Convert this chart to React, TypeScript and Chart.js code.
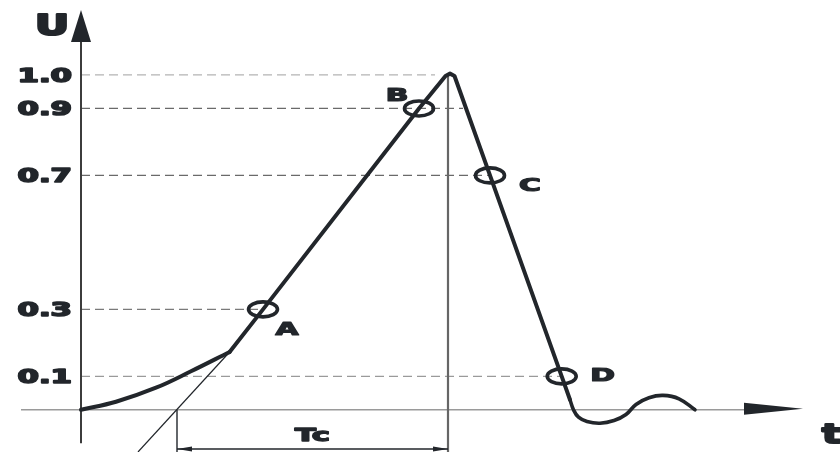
import React, { useEffect, useRef } from "react";
import { Chart, registerables } from "chart.js";

Chart.register(...registerables);

// ---- data (t in arbitrary time units, U relative) ----
const levels = [1.0, 0.9, 0.7, 0.3, 0.1];
const levelLabels = ["1.0", "0.9", "0.7", "0.3", "0.1"];
const levelGuideEnds = [35.4, 38.2, 40.9, 18.2, 48.1];

const footT = [0, 3.5, 7.5, 11.0, 14.86];
const footU = [0, 0.024, 0.066, 0.115, 0.1726];

const mainT = [14.86, 18.2, 33.8, 36.45, 36.9, 37.35, 40.9, 48.07, 48.9];
const mainU = [0.1726, 0.3, 0.9, 0.997, 1.004, 0.997, 0.7, 0.1, 0.03];

const tailT = [48.9, 49.25, 49.75, 50.6, 51.9, 53.3, 54.5, 55.5, 56.8, 58.2, 59.8, 61.4];
const tailU = [0.03, 0.0, -0.022, -0.035, -0.04, -0.032, -0.014, 0.016, 0.036, 0.043, 0.033, 0];

const tangentT = [5.7, 14.86];
const tangentU = [-0.126, 0.1726];

const markerT = [18.2, 33.8, 40.9, 48.07];
const markerU = [0.3, 0.9, 0.7, 0.1];
const markerNames = ["A", "B", "C", "D"];

const PEAK_T = 36.7;
const TC_START_T = 9.6;
const TC_LABEL = "Tc";
const Y_TITLE = "U";
const X_TITLE = "t";

const T_AXIS_START = -6;
const T_AXIS_END = 72.2;
const U_AXIS_BOTTOM = -0.1;
const U_AXIS_TOP = 1.194;
const DIM_U = -0.117;
const TC_LABEL_U = -0.075;

const pts = (xs: number[], ys: number[]) => xs.map((x, i) => ({ x, y: ys[i] }));

const INK = "#22262b";
const FONT = '"DejaVu Sans", sans-serif';

function stretchText(ctx: CanvasRenderingContext2D, text: string, x: number, y: number, align: CanvasTextAlign, size: number, stretch: number, weight = 1.3) {
  ctx.save();
  ctx.translate(x, y);
  ctx.scale(stretch, 1);
  ctx.font = `bold ${size}px ${FONT}`;
  ctx.textAlign = align;
  ctx.textBaseline = "alphabetic";
  ctx.fillStyle = INK;
  ctx.strokeStyle = INK;
  ctx.lineWidth = weight;
  ctx.lineJoin = "round";
  ctx.fillText(text, 0, 0);
  ctx.strokeText(text, 0, 0);
  ctx.restore();
}

const diagramPlugin = {
  id: "diagram",
  beforeDatasetsDraw(chart: any) {
    const ctx: CanvasRenderingContext2D = chart.ctx;
    const xs = chart.scales.x;
    const ys = chart.scales.y;
    const px = (t: number) => xs.getPixelForValue(t);
    const py = (u: number) => ys.getPixelForValue(u);
    const x0 = px(0);
    const y0 = py(0);
    ctx.save();

    // dashed guides
    const guideColors = ["#b4b4b4", "#6a6a6a", "#6a6a6a", "#7a7a7a", "#9a9a9a"];
    levels.forEach((lv, i) => {
      ctx.beginPath();
      ctx.setLineDash([9, 5]);
      ctx.strokeStyle = guideColors[i];
      ctx.lineWidth = 1.3;
      ctx.moveTo(x0, py(lv));
      ctx.lineTo(px(levelGuideEnds[i]), py(lv));
      ctx.stroke();
    });
    ctx.setLineDash([]);

    // t axis
    ctx.beginPath();
    ctx.strokeStyle = "#9a9a9a";
    ctx.lineWidth = 1.5;
    ctx.moveTo(px(T_AXIS_START), y0);
    ctx.lineTo(px(T_AXIS_END) - 58, y0);
    ctx.stroke();
    ctx.beginPath();
    ctx.fillStyle = INK;
    const tipX = px(T_AXIS_END);
    ctx.moveTo(tipX - 59, y0 - 7);
    ctx.lineTo(tipX, y0 - 1);
    ctx.lineTo(tipX - 59, y0 + 5);
    ctx.closePath();
    ctx.fill();

    // U axis
    ctx.beginPath();
    ctx.strokeStyle = "#3c3c3c";
    ctx.lineWidth = 2;
    ctx.moveTo(x0, py(U_AXIS_BOTTOM));
    ctx.lineTo(x0, py(U_AXIS_TOP) + 30);
    ctx.stroke();
    ctx.beginPath();
    const tipY = py(U_AXIS_TOP);
    ctx.moveTo(x0, tipY);
    ctx.lineTo(x0 + 10, tipY + 32);
    ctx.lineTo(x0 - 10, tipY + 32);
    ctx.closePath();
    ctx.fill();

    // peak vertical
    ctx.beginPath();
    ctx.strokeStyle = "#666";
    ctx.lineWidth = 2.2;
    ctx.moveTo(px(PEAK_T), py(1.0));
    ctx.lineTo(px(PEAK_T), chart.height);
    ctx.stroke();

    // Tc start vertical
    ctx.beginPath();
    ctx.strokeStyle = INK;
    ctx.lineWidth = 1.4;
    ctx.moveTo(px(TC_START_T), y0);
    ctx.lineTo(px(TC_START_T), chart.height);
    ctx.stroke();

    // dimension line
    const dy = py(DIM_U);
    const a = px(TC_START_T);
    const b = px(PEAK_T);
    ctx.beginPath();
    ctx.lineWidth = 1.3;
    ctx.moveTo(a, dy);
    ctx.lineTo(b, dy);
    ctx.stroke();
    ctx.beginPath();
    ctx.moveTo(a, dy);
    ctx.lineTo(a + 15, dy - 2.5);
    ctx.lineTo(a + 15, dy + 2.5);
    ctx.closePath();
    ctx.moveTo(b, dy);
    ctx.lineTo(b - 15, dy - 2.5);
    ctx.lineTo(b - 15, dy + 2.5);
    ctx.closePath();
    ctx.fill();
    ctx.restore();
  },
  afterDatasetsDraw(chart: any) {
    const ctx: CanvasRenderingContext2D = chart.ctx;
    const xs = chart.scales.x;
    const ys = chart.scales.y;
    const px = (t: number) => xs.getPixelForValue(t);
    const py = (u: number) => ys.getPixelForValue(u);
    ctx.save();

    // marker ellipses
    const labelOffsets = [[24, 20], [-22, -13], [40, 10], [41, -1]];
    markerT.forEach((t, i) => {
      const cx = px(t);
      const cy = py(markerU[i]);
      ctx.beginPath();
      ctx.strokeStyle = INK;
      ctx.lineWidth = 3.6;
      ctx.ellipse(cx, cy, 14.5, 7.5, 0, 0, Math.PI * 2);
      ctx.stroke();
      stretchText(ctx, markerNames[i], cx + labelOffsets[i][0], cy + labelOffsets[i][1] + 6, "center", 17, 1.75, 1.2);
    });

    // tick labels
    const x0 = px(0);
    levels.forEach((lv, i) => {
      stretchText(ctx, levelLabels[i], x0 - 9, py(lv) + 7, "right", 19, 1.62, 1.6);
    });

    // titles
    stretchText(ctx, Y_TITLE, 35, 35, "left", 28, 1.5, 2.2);
    stretchText(ctx, X_TITLE, 822, 443, "left", 27, 1.45, 2.2);
    stretchText(ctx, TC_LABEL, (px(TC_START_T) + px(PEAK_T)) / 2, py(TC_LABEL_U) + 6, "center", 18, 1.7, 1.4);
    ctx.restore();
  },
};

export default function App() {
  const ref = useRef<HTMLCanvasElement | null>(null);
  useEffect(() => {
    if (!ref.current) return;
    const common = { showLine: true, pointRadius: 0, borderColor: INK, clip: false as any, fill: false };
    const chart = new Chart(ref.current, {
      type: "scatter",
      data: {
        datasets: [
          { ...common, label: "foot", data: pts(footT, footU), borderWidth: 4, tension: 0.4, borderCapStyle: "round" },
          { ...common, label: "impulse", data: pts(mainT, mainU), borderWidth: 4, tension: 0, borderJoinStyle: "round", borderCapStyle: "round" },
          { ...common, label: "tail", data: pts(tailT, tailU), borderWidth: 3.6, tension: 0.4, borderCapStyle: "round" },
          { ...common, label: "tangent", data: pts(tangentT, tangentU), borderWidth: 1.2, tension: 0 },
        ] as any,
      },
      options: {
        animation: false,
        responsive: true,
        maintainAspectRatio: false,
        events: [],
        layout: { padding: { left: 1, right: 0, top: 8, bottom: 2 } },
        plugins: { legend: { display: false }, tooltip: { enabled: false } },
        scales: {
          x: { type: "linear", min: -8, max: 75.9, display: false },
          y: { type: "linear", min: -0.12, max: 1.2, display: false },
        },
      },
      plugins: [diagramPlugin],
    });
    return () => chart.destroy();
  }, []);
  return (
    <div style={{ position: "fixed", left: 0, top: 0, width: 840, height: 452, background: "#fff" }}>
      <canvas ref={ref} />
    </div>
  );
}
